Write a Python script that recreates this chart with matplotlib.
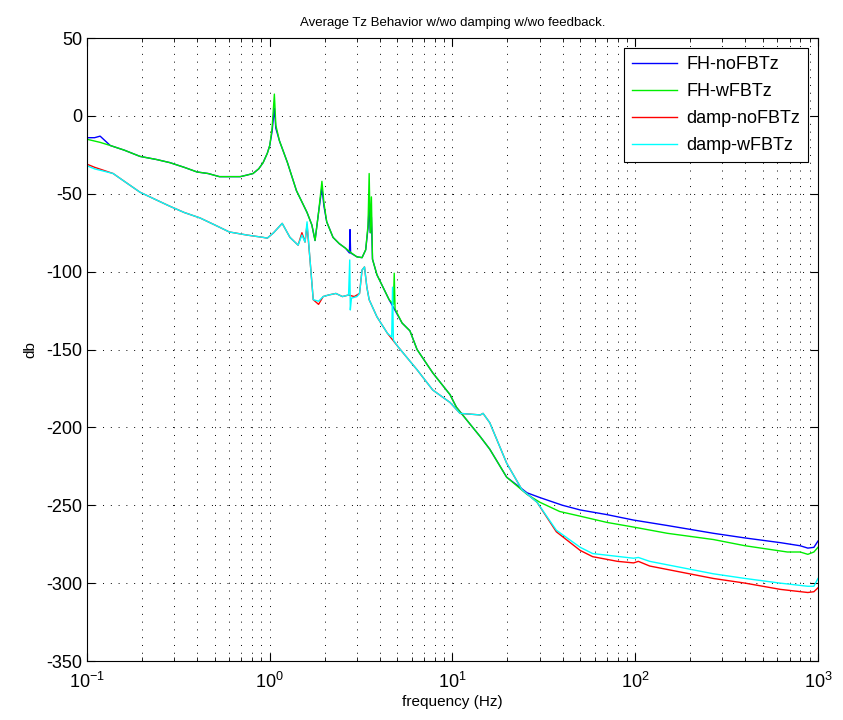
import matplotlib
matplotlib.use("Agg")
import matplotlib.pyplot as plt
from matplotlib.ticker import LogLocator, NullFormatter

plt.rcParams["font.family"] = ["Liberation Sans", "DejaVu Sans"]
plt.rcParams["mathtext.fontset"] = "custom"
plt.rcParams["mathtext.rm"] = "Liberation Sans"
plt.rcParams["mathtext.it"] = "Liberation Sans"
plt.rcParams["axes.unicode_minus"] = False

# --- data (frequency in Hz, level in dB) ---
fh_no_f = [0.1, 0.11, 0.118, 0.134, 0.16, 0.195, 0.24, 0.284, 0.34, 0.4, 0.46, 0.53,
           0.6, 0.69, 0.75, 0.81, 0.87, 0.92, 0.97, 1.0, 1.03, 1.06, 1.08, 1.13, 1.18,
           1.25, 1.4, 1.6, 1.7, 1.77, 1.85, 1.93, 1.98, 2.05, 2.22, 2.4, 2.6, 2.73, 2.75,
           2.77, 3.0, 3.2, 3.35, 3.45, 3.5, 3.55, 3.6, 3.65, 3.86, 4.5, 5.3, 5.85, 6.4, 7.8,
           9.7, 10.5, 12.5, 14.2, 16, 19.8, 25.6, 30, 40, 50, 70, 98, 150, 268, 400, 623,
           800, 880, 950, 1000]
fh_no_db = [-14, -14, -13, -19, -22, -26, -28, -30, -33, -36, -37, -39,
            -39, -39, -38, -37, -34, -30, -24, -19, -10, 5, -8, -16, -22,
            -30, -48, -62, -70, -80, -62, -46, -58, -68, -78, -82, -85, -88, -73,
            -88, -90.5, -91, -86, -72, -58, -75, -65, -92, -102, -118, -133, -138, -150, -165,
            -179, -187, -198, -206, -214, -232, -242, -245, -250, -253, -256, -259.5, -263, -268, -271, -274,
            -276, -277.5, -277, -273]

fh_w_f = [0.1, 0.118, 0.134, 0.16, 0.195, 0.24, 0.284, 0.34, 0.4, 0.46, 0.53,
          0.6, 0.69, 0.75, 0.81, 0.87, 0.92, 0.97, 1.0, 1.03, 1.06, 1.08, 1.13, 1.18,
          1.25, 1.4, 1.6, 1.7, 1.77, 1.85, 1.93, 1.98, 2.05, 2.22, 2.4, 2.6, 2.8,
          3.0, 3.2, 3.35, 3.45, 3.5, 3.55, 3.6, 3.65, 3.86, 4.5, 4.75, 4.8, 4.85, 5.3,
          5.85, 6.4, 7.8, 9.7, 10.5, 12.5, 14.2, 16, 19.8, 25.6, 30, 38.6, 50, 70, 98,
          150, 268, 400, 680, 800, 880, 950, 1000]
fh_w_db = [-15, -17, -19, -22, -26, -28, -30, -33, -36, -37, -39,
           -39, -39, -38, -37, -34, -30, -24, -19, -8, 14, -6, -16, -22,
           -30, -48, -62, -70, -80, -62, -42, -56, -68, -78, -82, -85, -88,
           -90.5, -91, -86, -70, -37, -75, -52, -92, -102, -118, -121, -101, -124, -133,
           -138, -150, -165, -179, -187, -198, -206, -214, -232, -243, -248, -254, -257, -261, -264,
           -268, -272, -276, -280, -280, -281.5, -280, -277]

damp_no_f = [0.1, 0.11, 0.139, 0.16, 0.195, 0.24, 0.284, 0.34, 0.415, 0.5, 0.6, 0.75,
             0.92, 0.97, 1.05, 1.17, 1.29, 1.43, 1.5, 1.56, 1.6, 1.66, 1.73, 1.85,
             1.96, 2.1, 2.3, 2.5, 2.7, 2.9, 3.1, 3.2, 3.3, 3.4, 3.5, 3.86, 4.4,
             5.1, 6.4, 7.8, 9.7, 11, 14.2, 14.7, 16, 19.8, 24, 29, 37, 50, 58.5, 80, 98,
             104, 120, 268, 400, 623, 880, 950, 1000]
damp_no_db = [-31, -33, -37, -42, -49, -54, -58, -62, -65.5, -70, -74.5, -76.5,
              -78, -78.5, -75, -69, -78, -83, -75, -81, -70, -92, -118, -121,
              -116, -115, -114, -116, -115, -116, -114, -99, -97, -110, -118, -129, -139.5,
              -149, -163, -176, -184, -191, -192, -191, -197, -223, -240, -248, -267, -279, -283, -286, -287,
              -286, -289, -297, -300, -304, -306, -305.5, -303]

damp_w_f = [0.1, 0.11, 0.139, 0.16, 0.195, 0.24, 0.284, 0.34, 0.415, 0.5, 0.6, 0.75,
            0.92, 0.97, 1.05, 1.17, 1.29, 1.43, 1.5, 1.56, 1.6, 1.66, 1.73, 1.85,
            1.96, 2.1, 2.3, 2.5, 2.7, 2.74, 2.76, 2.8, 3.0, 3.1, 3.2, 3.3, 3.4, 3.5, 3.86,
            4.4, 4.65, 4.7, 4.75, 5.1, 6.4, 7.8, 9.7, 11, 14.2, 14.7, 16, 19.8, 24, 29, 37,
            50, 58.5, 98, 104, 120, 268, 400, 623, 880, 950, 1000]
damp_w_db = [-32, -34, -37, -42, -49, -54, -58, -62, -65.5, -70, -74.5, -76.5,
             -78, -78.5, -75, -69, -78, -83, -76.5, -81, -68, -92, -118, -119,
             -116, -115, -114, -116, -115, -92.5, -124.6, -117, -116, -114, -99, -97, -110, -118, -129,
             -139.5, -142, -110, -144, -149, -163, -176, -184, -191, -192, -191, -197, -223, -240, -248, -266,
             -277, -281, -284, -283.5, -286, -294, -297, -300, -302, -302, -297]

series = [
    (fh_no_f, fh_no_db, "FH-noFBTz", "#0000ff"),
    (fh_w_f, fh_w_db, "FH-wFBTz", "#00ee00"),
    (damp_no_f, damp_no_db, "damp-noFBTz", "#ff0000"),
    (damp_w_f, damp_w_db, "damp-wFBTz", "#00ffff"),
]

fig = plt.figure(figsize=(8.43, 7.2), dpi=100)
ax = fig.add_axes([0.1032, 0.0819, 0.8671, 0.8653])

for f, db, name, col in series:
    ax.semilogx(f, db, color=col, lw=1.0, label=name)

ax.set_xlim(0.1, 1000)
ax.set_ylim(-350, 50)
ax.set_yticks(range(-350, 51, 50))
ax.xaxis.set_major_locator(LogLocator(base=10, numticks=10))
ax.xaxis.set_minor_locator(LogLocator(base=10, subs=range(2, 10), numticks=100))
ax.xaxis.set_minor_formatter(NullFormatter())

dots = (0, (1, 7))
ax.grid(True, which="major", color="black", linestyle=dots, lw=0.7)
ax.grid(True, which="minor", axis="x", color="black", linestyle=dots, lw=0.7)
ax.tick_params(which="both", direction="in", top=True, right=True, labelsize=13)
ax.tick_params(which="major", length=6)
ax.tick_params(which="minor", length=3)
ax.tick_params(axis="x", which="major", pad=8)

ax.set_xlabel("frequency (Hz)", fontsize=11, labelpad=2)
ax.set_ylabel("db", fontsize=11, labelpad=6)
ax.set_title("Average Tz Behavior w/wo damping w/wo feedback.", fontsize=9.5, pad=9)

leg = ax.legend(loc="upper right", fontsize=13, fancybox=False, framealpha=1,
                edgecolor="black", borderaxespad=0.55, handlelength=2.5,
                labelspacing=0.55, borderpad=0.45, handletextpad=0.5)
leg.get_frame().set_linewidth(0.8)

fig.savefig("out.png", dpi=100)
